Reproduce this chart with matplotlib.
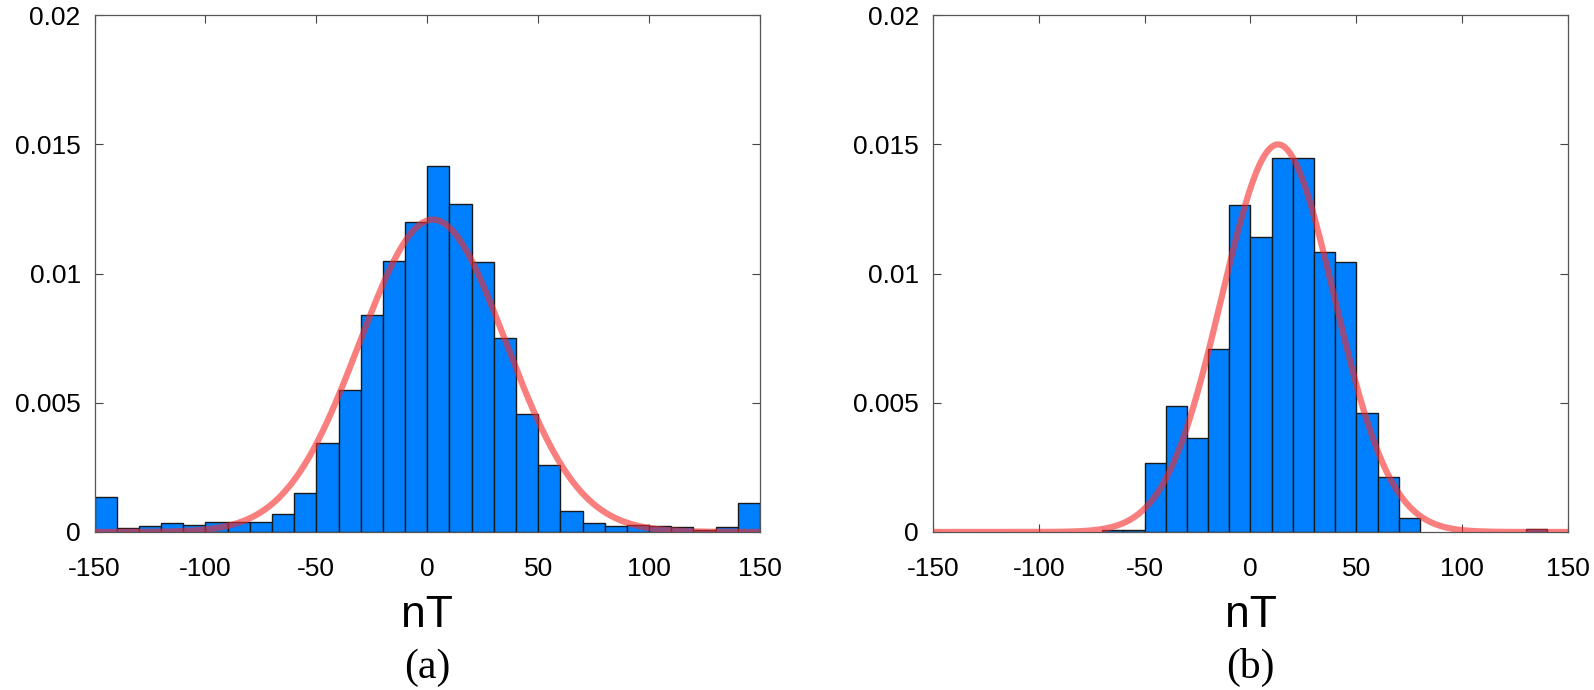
import numpy as np
import matplotlib
matplotlib.use("Agg")
import matplotlib.pyplot as plt
from matplotlib.ticker import FuncFormatter

# histogram bins (nT), width 10 from -150 to 150
bin_edges = np.arange(-150, 151, 10)

# panel (a) densities per bin
density_a = [0.00135, 0.00014, 0.00022, 0.00034, 0.00027, 0.00039, 0.00040, 0.00039,
             0.00068, 0.00149, 0.00343, 0.00550, 0.00840, 0.01050, 0.01200, 0.01417,
             0.01270, 0.01043, 0.00750, 0.00458, 0.00259, 0.00081, 0.00034, 0.00024,
             0.00027, 0.00022, 0.00019, 0.00007, 0.00020, 0.00112]
# panel (b) densities per bin
density_b = [0, 0, 0, 0, 0, 0, 0, 0,
             0.00006, 0.00006, 0.00267, 0.00487, 0.00363, 0.00710, 0.01265, 0.01141,
             0.01447, 0.01447, 0.01084, 0.01043, 0.00460, 0.00211, 0.00056, 0,
             0, 0, 0, 0, 0.00010, 0]

# fitted normal curves (mean, std) in nT
fit_a = (2.5, 33.0)
fit_b = (13.0, 26.6)

panel_labels = ["(a)", "(b)"]
y_ticks = [0, 0.005, 0.01, 0.015, 0.02]
x_ticks = [-150, -100, -50, 0, 50, 100, 150]

bar_color = "#0080ff"
fit_color = "#f52a2a"


def draw_panel(ax, density, fit, label):
    density = np.asarray(density, dtype=float)
    left = bin_edges[:-1]
    keep = density > 0
    ax.bar(left[keep], density[keep], width=10, align="edge", color=bar_color,
           edgecolor="#1a1a1a", linewidth=1.0, zorder=2)

    mu, sigma = fit
    xs = np.linspace(-150, 150, 601)
    pdf = np.exp(-0.5 * ((xs - mu) / sigma) ** 2) / (sigma * np.sqrt(2 * np.pi))
    ax.plot(xs, pdf, color=fit_color, linewidth=4.5, alpha=0.6, zorder=3,
            solid_capstyle="butt")

    ax.set_xlim(-150, 150)
    ax.set_ylim(0, 0.02)
    ax.set_xticks(x_ticks)
    ax.set_yticks(y_ticks)
    ax.xaxis.set_major_formatter(FuncFormatter(lambda v, _: f"{v:g}"))
    ax.yaxis.set_major_formatter(FuncFormatter(lambda v, _: f"{v:g}"))
    ax.tick_params(direction="in", top=True, right=True, length=6, width=0.8,
                   color="#444444", labelsize=19)
    ax.tick_params(axis="x", pad=18)
    ax.tick_params(axis="y", pad=10)
    for spine in ax.spines.values():
        spine.set_color("#555555")
        spine.set_linewidth(0.9)
    ax.text(0.5, -0.161, "nT", transform=ax.transAxes, ha="center", va="center",
            fontsize=32)
    ax.text(0.5, -0.262, label, transform=ax.transAxes, ha="center", va="center",
            fontsize=30, family="Liberation Serif")


plt.rcParams["font.family"] = ["Liberation Sans", "DejaVu Sans"]
plt.rcParams["axes.unicode_minus"] = False

fig = plt.figure(figsize=(15.94, 6.90), dpi=100)
ax_a = fig.add_axes([0.0593, 0.229, 0.4175, 0.749])
ax_b = fig.add_axes([0.5853, 0.229, 0.3984, 0.749])

draw_panel(ax_a, density_a, fit_a, panel_labels[0])
draw_panel(ax_b, density_b, fit_b, panel_labels[1])

fig.savefig("out.png", dpi=100)
